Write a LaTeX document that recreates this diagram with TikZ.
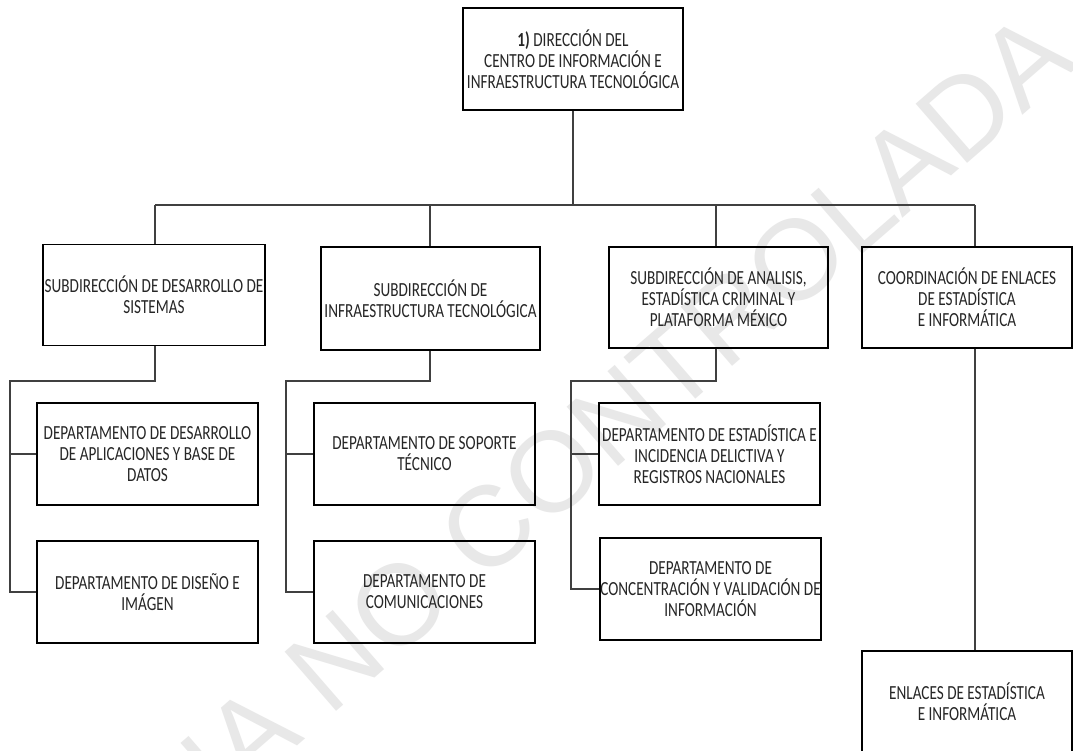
\documentclass[tikz,border=0pt]{standalone}
\usepackage{fontspec}
\newfontfamily\boxfont[FakeStretch=0.76]{Carlito}
\newfontfamily\wmfont{Liberation Sans}
\tikzset{
  orgbox/.style={draw=black, line width=1.1pt, inner sep=0pt, align=center,
    font=\boxfont\fontsize{20}{21}\selectfont, text=black!85},
  link/.style={draw=black!75, line width=1.1pt},
}
\begin{document}
\begin{tikzpicture}[x=1pt,y=-1pt]
\useasboundingbox (0,0) rectangle (1073,750);
\clip (0,0) rectangle (1073,750);
\fill[white] (0,0) rectangle (1073,750);
% watermark
\node[font=\wmfont\fontsize{114}{114}\selectfont, text=black!9, rotate=41, anchor=base east, inner sep=0pt]
  (wm) at (1080,65) {COPIA NO CONTROLADA};
% boxes
\node[orgbox, minimum width=220, minimum height=102] (top) at (573,59)
  {\textbf{1)} DIRECCIÓN DEL\\CENTRO DE INFORMACIÓN E\\INFRAESTRUCTURA TECNOLÓGICA};
\node[orgbox, minimum width=222, minimum height=101] (s1) at (154,295)
  {SUBDIRECCIÓN DE DESARROLLO DE\\SISTEMAS};
\node[orgbox, minimum width=219, minimum height=103] (s2) at (430.5,298.5)
  {SUBDIRECCIÓN DE\\INFRAESTRUCTURA TECNOLÓGICA};
\node[orgbox, minimum width=219, minimum height=101] (s3) at (718.5,297.5)
  {SUBDIRECCIÓN DE ANALISIS,\\ESTADÍSTICA CRIMINAL Y\\PLATAFORMA MÉXICO};
\node[orgbox, minimum width=210, minimum height=101] (s4) at (967,297.5)
  {COORDINACIÓN DE ENLACES\\DE ESTADÍSTICA\\E INFORMÁTICA};
\node[orgbox, minimum width=221, minimum height=102] (d1) at (147.5,454)
  {DEPARTAMENTO DE DESARROLLO\\DE APLICACIONES Y BASE DE\\DATOS};
\node[orgbox, minimum width=221, minimum height=102] (d2) at (147.5,592)
  {DEPARTAMENTO DE DISEÑO E\\IMÁGEN};
\node[orgbox, minimum width=221, minimum height=102] (d3) at (424.5,454)
  {DEPARTAMENTO DE SOPORTE\\TÉCNICO};
\node[orgbox, minimum width=221, minimum height=102] (d4) at (424.5,592)
  {DEPARTAMENTO DE\\COMUNICACIONES};
\node[orgbox, minimum width=221, minimum height=102] (d5) at (709.5,454)
  {DEPARTAMENTO DE ESTADÍSTICA E\\INCIDENCIA DELICTIVA Y\\REGISTROS NACIONALES};
\node[orgbox, minimum width=221, minimum height=102] (d6) at (710.5,589)
  {DEPARTAMENTO DE\\CONCENTRACIÓN Y VALIDACIÓN DE\\INFORMACIÓN};
\node[orgbox, minimum width=210, minimum height=102] (en) at (967,702)
  {ENLACES DE ESTADÍSTICA\\E INFORMÁTICA};
% bus
\coordinate (b1) at (155,205);
\coordinate (b2) at (430,205);
\coordinate (b3) at (716,205);
\coordinate (b4) at (975,205);
\coordinate (r1) at (10,381);
\coordinate (r2) at (286,381);
\coordinate (r3) at (571,381);
\draw[link] (top.south) -- (top.south |- b1);
\draw[link] (b1) -- (b4);
\draw[link] (b1) -- (b1 |- s1.north);
\draw[link] (b2) -- (b2 |- s2.north);
\draw[link] (b3) -- (b3 |- s3.north);
\draw[link] (b4) -- (b4 |- s4.north);
% subdir 1
\draw[link] (b1 |- s1.south) -- (b1 |- r1) -- (r1) -- (r1 |- d2.west) -- (d2.west);
\draw[link] (r1 |- d1.west) -- (d1.west);
% subdir 2
\draw[link] (b2 |- s2.south) -- (b2 |- r2) -- (r2) -- (r2 |- d4.west) -- (d4.west);
\draw[link] (r2 |- d3.west) -- (d3.west);
% subdir 3
\draw[link] (b3 |- s3.south) -- (b3 |- r3) -- (r3) -- (r3 |- d6.west) -- (d6.west);
\draw[link] (r3 |- d5.west) -- (d5.west);
% coordination
\draw[link] (b4 |- s4.south) -- (b4 |- en.north);
\end{tikzpicture}
\end{document}
